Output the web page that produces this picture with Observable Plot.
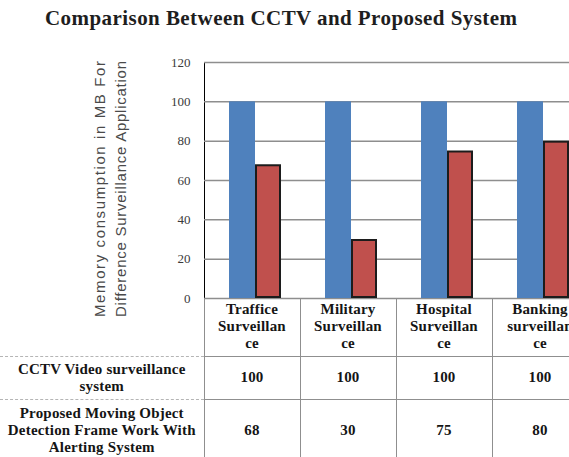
<!DOCTYPE html>
<html>
<head>
<meta charset="utf-8">
<script src="https://cdn.jsdelivr.net/npm/d3@7"></script>
<script src="https://cdn.jsdelivr.net/npm/@observablehq/plot@0.6"></script>
<style>
  html, body { margin: 0; padding: 0; background: #fff; overflow: hidden; }
  #wrap { position: relative; width: 569px; height: 457px; overflow: hidden; background: #fff; }
  #plot { position: absolute; left: 0; top: 40px; width: 588px; }
  #plot svg { max-width: none !important; }
  #overlay { position: absolute; left: 0; top: 0; pointer-events: none; }
  #table { position: absolute; left: 0; top: 298px; border-collapse: collapse; table-layout: fixed;
           font-family: "Liberation Serif", "Times New Roman", serif; font-weight: bold; font-size: 15px;
           letter-spacing: 0.2px; color: #151515; line-height: 17px; }
  #table td { text-align: center; vertical-align: middle; padding: 0; white-space: nowrap; }
  #table td.v { border-left: 1px solid #8f8f8f; border-right: 1px solid #8f8f8f; }
  #table tr.r1 td, #table tr.r2 td { border-top: 1px solid #8f8f8f; }
  #table tr.r1 td.lab, #table tr.r2 td.lab { border-top: 1px dashed #b5b5b5; }
</style>
</head>
<body>
<div id="wrap">
  <div id="plot"></div>
  <table id="table"></table>
  <svg id="overlay" width="569" height="457"></svg>
</div>
<script>
// ---- data ----
const title = "Comparison Between  CCTV and Proposed System";
const yTitleLines = ["Memory consumption in MB  For", "Difference Surveillance Application"];
const categories = ["Traffice Surveillance", "Military Surveillance", "Hospital Surveillance", "Banking surveillance"];
const categoryLabelLines = [
  ["Traffice", "Surveillan", "ce"],
  ["Military", "Surveillan", "ce"],
  ["Hospital", "Surveillan", "ce"],
  ["Banking", "surveillan", "ce"]
];
const seriesNames = ["CCTV Video surveillance system", "Proposed Moving Object Detection Frame Work With Alerting System"];
const seriesLabelLines = [
  ["CCTV Video surveillance", "system"],
  ["Proposed Moving Object", "Detection Frame Work With", "Alerting System"]
];
const cctvValues = [100, 100, 100, 100];
const proposedValues = [68, 30, 75, 80];
const yTicks = [0, 20, 40, 60, 80, 100, 120];
const colors = ["#4f81bd", "#c0504d"];

// ---- rows for the library ----
const rows = [];
categories.forEach((c, i) => {
  rows.push({category: c, series: seriesNames[0], value: cctvValues[i]});
  rows.push({category: c, series: seriesNames[1], value: proposedValues[i]});
});

const chart = Plot.plot({
  width: 588,
  height: 272,
  marginLeft: 204,
  marginRight: 0,
  marginTop: 22,
  marginBottom: 14,
  style: {background: "transparent", fontFamily: "Liberation Serif, serif", maxWidth: "none"},
  fx: {domain: categories, padding: 0, axis: null, label: null},
  x: {domain: seriesNames, paddingInner: 0, paddingOuter: 0.81, align: 0.56, axis: null, label: null},
  y: {domain: [0, 120], ticks: yTicks, tickSize: 0, tickPadding: 14, label: null, line: true, fontSize: 13},
  marks: [
    Plot.ruleY(yTicks, {stroke: "#8e8e8e", strokeWidth: 1.5}),
    Plot.barY(rows.filter(d => d.series === seriesNames[0]), {
      fx: "category", x: "series", y: "value", fill: colors[0], inset: 0
    }),
    Plot.barY(rows.filter(d => d.series === seriesNames[1]), {
      fx: "category", x: "series", y: "value", fill: colors[1], stroke: "#1c1c1c", strokeWidth: 2, inset: 1
    })
  ]
});
chart.style.maxWidth = "none";
document.getElementById("plot").appendChild(chart);
// style the y axis
d3.select(chart).selectAll("g[aria-label='y-axis'] text, g[aria-label='y-axis tick label'] text")
  .attr("fill", "#3a3a3a").style("font-size", "13px");
d3.select(chart).selectAll("g[aria-label='y-axis'] path, g[aria-label='y-axis'] line")
  .attr("stroke", "#8e8e8e").attr("stroke-width", 1.5);

// ---- data table below the plot ----
const table = d3.select("#table");
const cg = table.append("colgroup");
cg.append("col").style("width", "204px");
categories.forEach(() => cg.append("col").style("width", "96px"));
table.style("width", (204 + 96 * categories.length) + "px");

const hr = table.append("tr").style("height", "58px");
hr.append("td").attr("class", "lab");
categoryLabelLines.forEach(lines => hr.append("td").attr("class", "v").html(lines.join("<br>")));

const seriesValues = [cctvValues, proposedValues];
const rowHeights = [43, 62];
seriesLabelLines.forEach((lines, s) => {
  const tr = table.append("tr").attr("class", "r" + (s + 1)).style("height", rowHeights[s] + "px");
  tr.append("td").attr("class", "lab").html(lines.join("<br>"));
  seriesValues[s].forEach(v => tr.append("td").attr("class", "v").text(v));
});

// ---- title and y-axis title ----
const ov = d3.select("#overlay");
ov.append("text")
  .attr("x", 45).attr("y", 25)
  .attr("textLength", 472).attr("lengthAdjust", "spacing")
  .style("font-family", "Liberation Serif, serif").style("font-weight", "bold").style("font-size", "21px")
  .attr("fill", "#1e1e1e").text(title);

const yt = ov.append("g").attr("transform", "translate(0,189) rotate(-90)");
yTitleLines.forEach((line, i) => {
  yt.append("text")
    .attr("x", 0).attr("y", 105 + i * 21)
    .attr("text-anchor", "middle")
    .attr("textLength", 256).attr("lengthAdjust", "spacing")
    .style("font-family", "Liberation Sans, Arial, sans-serif").style("font-size", "15px")
    .attr("fill", "#4a4a4a").text(line);
});
</script>
</body>
</html>
